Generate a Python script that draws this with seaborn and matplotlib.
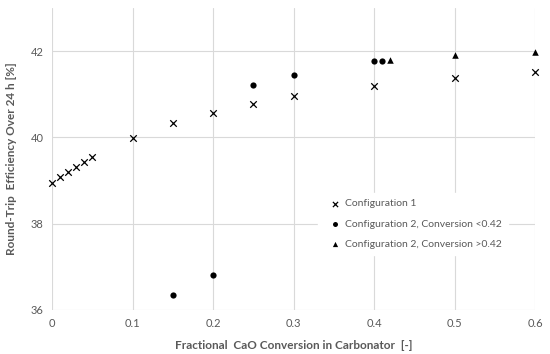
import matplotlib.pyplot as plt
import numpy as np
import pandas as pd
import seaborn as sns

# data
conv_cfg1 = [0, 0.01, 0.02, 0.03, 0.04, 0.05, 0.1, 0.15, 0.2, 0.25, 0.3, 0.4, 0.5, 0.6]
eff_cfg1 = [38.95, 39.08, 39.2, 39.32, 39.43, 39.55, 39.98, 40.33, 40.57, 40.77, 40.95, 41.19, 41.37, 41.51]

conv_cfg2_low = [0.15, 0.2, 0.25, 0.3, 0.4, 0.41]
eff_cfg2_low = [36.35, 36.82, 41.21, 41.44, 41.76, 41.78]

conv_cfg2_high = [0.42, 0.5, 0.6]
eff_cfg2_high = [41.8, 41.9, 41.97]

labels = ["Configuration 1", "Configuration 2, Conversion <0.42", "Configuration 2, Conversion >0.42"]

sns.set_style("whitegrid")
plt.rcParams["font.family"] = ["Lato", "DejaVu Sans"]

fig = plt.figure(figsize=(5.5, 3.54), dpi=100)
ax = fig.add_axes([52 / 550, 1 - 310 / 354, (535 - 52) / 550, (310 - 8) / 354])

series = [(conv_cfg1, eff_cfg1, "x", 22), (conv_cfg2_low, eff_cfg2_low, "o", 20), (conv_cfg2_high, eff_cfg2_high, "^", 22)]
for (xs, ys, m, sz), lab in zip(series, labels):
    sns.scatterplot(x=xs, y=ys, marker=m, color="black", s=sz, linewidth=0.9 if m == "x" else 0,
                    ax=ax, label=lab, clip_on=False, zorder=3)

leg = ax.legend(loc="center left", bbox_to_anchor=(0.54, 0.285), frameon=True, fontsize=7.5,
                handletextpad=0.0, labelspacing=1.05, borderpad=0.6, labelcolor="#595959", markerscale=0.8)
leg.get_frame().set_edgecolor("white")
leg.get_frame().set_alpha(1)
leg.set_zorder(4)

ax.set_xlim(0, 0.6)
ax.set_ylim(36, 43)
ax.set_xticks([0, 0.1, 0.2, 0.3, 0.4, 0.5, 0.6])
ax.set_xticklabels(["0", "0.1", "0.2", "0.3", "0.4", "0.5", "0.6"])
ax.set_yticks([36, 38, 40, 42])
ax.tick_params(axis="both", labelsize=8, colors="#595959", length=0, pad=6)
ax.grid(True, color="#d9d9d9", linewidth=0.8)
for s in ax.spines.values():
    s.set_visible(False)

ax.set_xlabel("Fractional  CaO Conversion in Carbonator  [-]", fontsize=8.5, fontweight="bold", color="#595959", labelpad=8)
ax.set_ylabel("Round-Trip  Efficiency Over 24 h [%]", fontsize=8.5, fontweight="bold", color="#595959", labelpad=10)

fig.savefig("out.png", dpi=100)
